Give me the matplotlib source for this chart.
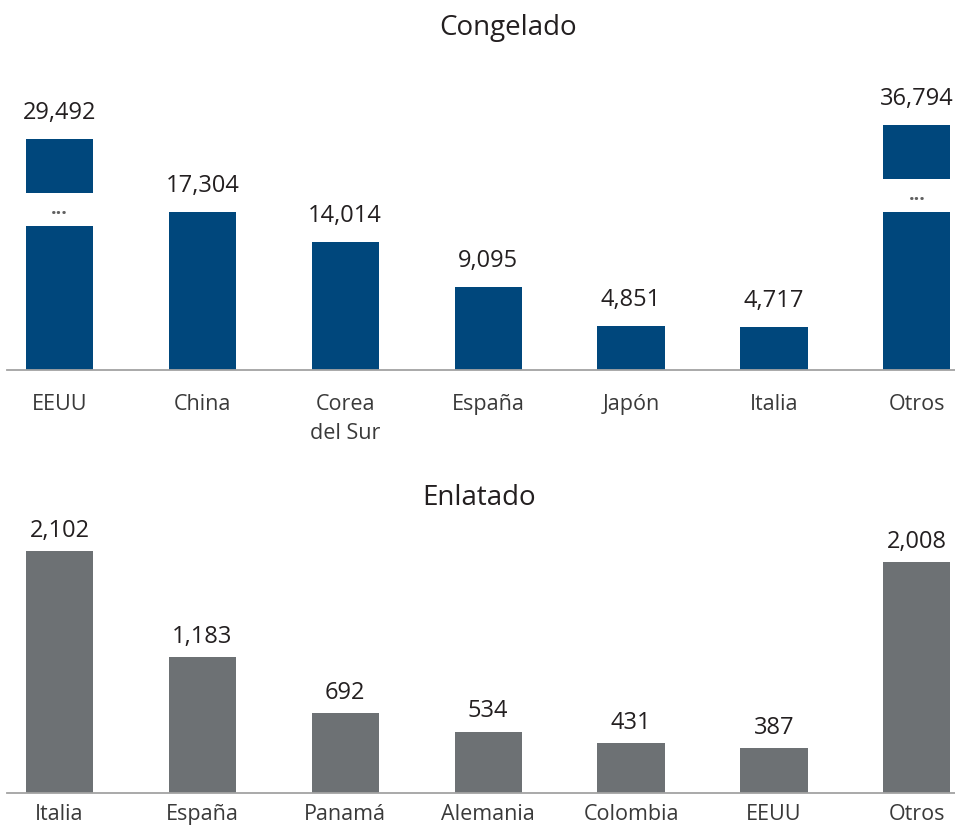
import numpy as np
import matplotlib
matplotlib.use('Agg')
import matplotlib.pyplot as plt
from matplotlib.ticker import NullLocator

plt.rcParams['font.family'] = ['Open Sans', 'DejaVu Sans']

# data
cong_labels = ['EEUU', 'China', 'Corea\ndel Sur', 'España', 'Japón', 'Italia', 'Otros']
cong_values = [29492, 17304, 14014, 9095, 4851, 4717, 36794]
cong_broken = [True, False, False, False, False, False, True]

enl_labels = ['Italia', 'España', 'Panamá', 'Alemania', 'Colombia', 'EEUU', 'Otros']
enl_values = [2102, 1183, 692, 534, 431, 387, 2008]

BLUE = '#00477c'
GREY = '#6d7174'
TXT = '#231f20'
LINE = '#a3a3a3'

# piecewise scale for the top chart: values above the break are compressed
BRK = 24190
RATIO = 0.21

def fwd(v):
    v = np.asarray(v, dtype=float)
    return np.where(v <= BRK, v, BRK + (v - BRK) * RATIO)

def inv(t):
    t = np.asarray(t, dtype=float)
    return np.where(t <= BRK, t, BRK + (t - BRK) / RATIO)

fig = plt.figure(figsize=(9.55, 8.27), dpi=100)
W, H = 955, 827

def place(top_px, bottom_px):
    return [7 / W, 1 - bottom_px / H, (W - 7) / W, (bottom_px - top_px) / H]

def style(ax):
    for s in ['top', 'right', 'left']:
        ax.spines[s].set_visible(False)
    ax.spines['bottom'].set_color(LINE)
    ax.spines['bottom'].set_linewidth(1.3)
    ax.yaxis.set_major_locator(NullLocator())
    ax.yaxis.set_minor_locator(NullLocator())
    ax.tick_params(axis='x', length=0, labelsize=15.5, labelcolor='#3a3a3a')
    ax.set_xlim(-0.367, 6.267)

x = np.arange(len(cong_values))
width = 0.47

# top chart
ax1 = fig.add_axes(place(60, 370))
ax1.set_yscale('function', functions=(fwd, inv))
style(ax1)
top_t = 310 / 0.00913
ax1.set_ylim(0, float(inv(top_t)))
gap_lo = 87 / 0.00913
gap_hi = 54 / 0.00913
for xi, v, br in zip(x, cong_values, cong_broken):
    if br:
        lo = float(inv(fwd(v) - gap_lo))
        hi = float(inv(fwd(v) - gap_hi))
        ax1.bar(xi, lo, width=width, color=BLUE)
        ax1.bar(xi, v - hi, bottom=hi, width=width, color=BLUE)
        mid = float(inv((fwd(lo) + fwd(hi)) / 2))
        ax1.text(xi, mid, '...', ha='center', va='center', fontsize=14,
                 fontweight='bold', color='#606060')
    else:
        ax1.bar(xi, v, width=width, color=BLUE)
    ax1.annotate(f'{v:,}', (xi, v), xytext=(0, 10), textcoords='offset points',
                 ha='center', va='bottom', fontsize=17, color=TXT)
ax1.set_xticks(x)
ax1.set_xticklabels(cong_labels, linespacing=1.55, va='top')
ax1.tick_params(axis='x', pad=17)

# bottom chart
ax2 = fig.add_axes(place(520, 793))
style(ax2)
ax2.set_ylim(0, 273 / 0.1151)
ax2.bar(x, enl_values, width=width, color=GREY)
for xi, v in zip(x, enl_values):
    ax2.annotate(f'{v:,}', (xi, v), xytext=(0, 6), textcoords='offset points',
                 ha='center', va='bottom', fontsize=17, color=TXT)
ax2.set_xticks(x)
ax2.set_xticklabels(enl_labels)
ax2.tick_params(axis='x', pad=8)

fig.text(508 / W, 1 - 28 / H, 'Congelado', ha='center', va='center', fontsize=20, color=TXT)
fig.text(479 / W, 1 - 498 / H, 'Enlatado', ha='center', va='center', fontsize=20, color=TXT)

fig.savefig('out.png', dpi=100)
